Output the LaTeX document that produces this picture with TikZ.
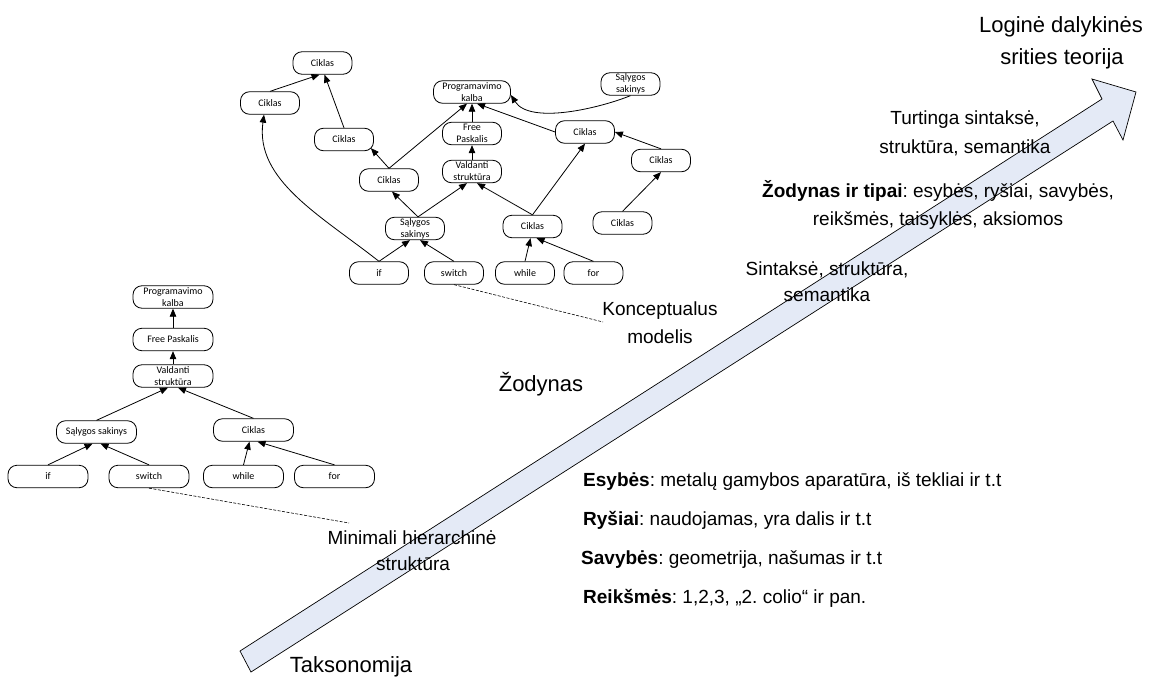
\documentclass[tikz,border=0pt]{standalone}
\usepackage{fontspec}
\setmainfont{Liberation Sans}
\newfontfamily\nodefont{Carlito}
\usetikzlibrary{arrows.meta}
\definecolor{arrowfill}{RGB}{228,234,246}
\frenchspacing

\begin{document}
\begin{tikzpicture}[x=1pt,y=-1pt,
  box/.style={draw, line width=0.8pt, rounded corners=9pt, inner sep=0pt, align=center,
              font=\nodefont\fontsize{10}{12}\selectfont, minimum height=22.5pt},
  ubox/.style={box, minimum width=59pt},
  lbox/.style={box, minimum width=80pt},
  link/.style={line width=0.8pt, -{Triangle[length=8pt,width=6.5pt]}},
  guide/.style={line width=0.6pt, dash pattern=on 3pt off 1.5pt},
  txt/.style={inner sep=0pt, anchor=base},
  big/.style={txt, font=\fontsize{22}{26}\selectfont},
  mid/.style={txt, font=\fontsize{19}{23}\selectfont},
  item/.style={inner sep=0pt, anchor=base west, font=\fontsize{19}{23}\selectfont},
]
\useasboundingbox (0,0) rectangle (1160,680);

% the rising arrow from taxonomy to domain theory
\draw[line width=0.7pt, fill=arrowfill, line join=miter]
  (240,651) -- (1102,99) -- (1092,79) -- (1136,92) -- (1123,140) -- (1113,121) -- (251,672) -- cycle;

% labels along the arrow
\node[big] (top1) at (1061,32) {Loginė dalykinės};
\node[big] (top2) at (1062,64) {srities teorija};
\node[mid] (rich1) at (965,124) {Turtinga sintaksė,};
\node[mid] (rich2) at (965,153) {struktūra, semantika};
\node[mid] (voc1) at (938,197) {\textbf{Žodynas ir tipai}: esybės, ryšiai, savybės,};
\node[mid] (voc2) at (938,225) {reikšmės, taisyklės, aksiomos};
\node[mid] (syn1) at (827,275) {Sintaksė, struktūra,};
\node[mid] (syn2) at (827,301) {semantika};
\node[mid] (con1) at (660,315) {Konceptualus};
\node[mid] (con2) at (660,343) {modelis};
\node[big] (dict) at (541,391) {Žodynas};
\node[mid] (min1) at (412,544) {Minimali hierarchinė};
\node[mid] (min2) at (413,570) {struktūra};
\node[big] (tax) at (351,672) {Taksonomija};
\node[item] (ent) at (583,486) {\textbf{Esybės}: metalų gamybos aparatūra, iš tekliai ir t.t};
\node[item] (rel) at (583,525) {\textbf{Ryšiai}: naudojamas, yra dalis ir t.t};
\node[item] (prop) at (581,564) {\textbf{Savybės}: geometrija, našumas ir t.t};
\node[item] (val) at (583,603) {\textbf{Reikšmės}: 1,2,3, „2. colio“ ir pan.};

% conceptual model
\node[ubox] (c1) at (322.5,63) {Ciklas};
\node[ubox] (c2) at (270,103) {Ciklas};
\node[ubox] (c3) at (344,139.5) {Ciklas};
\node[ubox] (c4) at (389,180) {Ciklas};
\node[ubox] (us) at (415,228.5) {Sąlygos\\sakinys};
\node[ubox] (uif) at (379,273) {if};
\node[ubox] (usw) at (454,273) {switch};
\node[ubox] (uwh) at (525,273) {while};
\node[ubox] (ufor) at (593.5,273) {for};
\node[box, minimum width=77pt] (uprog) at (472,92) {Programavimo\\kalba};
\node[ubox] (us2) at (630.5,84) {Sąlygos\\sakinys};
\node[ubox] (ufree) at (472,133.5) {Free\\Paskalis};
\node[ubox] (uval) at (472,171.5) {Valdanti\\struktūra};
\node[ubox] (c5) at (585,132) {Ciklas};
\node[ubox] (c6) at (661,160.5) {Ciklas};
\node[ubox] (c7) at (622.5,223) {Ciklas};
\node[ubox] (c8) at (532.5,226.5) {Ciklas};

\draw[link] (uif.north) -- ([xshift=-5pt]us.south);
\draw[link] (usw.north) -- ([xshift=5pt]us.south);
\draw[link] (uif.north) .. controls (320,215) and (255,180) .. ([xshift=-6pt]c2.south);
\draw[link] ([xshift=3pt]us.north) -- ([xshift=3pt]c4.south);
\draw[link] ([xshift=3pt]us.north) -- ([xshift=-5pt]uval.south);
\draw[link] (c4.north) -- ([xshift=-3pt,yshift=3pt]c3.south east);
\draw[link] (c4.north) -- ([xshift=-5pt]uprog.south);
\draw[link] (c3.north) -- ([xshift=2pt]c1.south);
\draw[link] (c2.north) -- ([xshift=-3pt]c1.south);
\draw[link] (ufree.north) -- (uprog.south);
\draw[link] (uval.north) -- (ufree.south);
\draw[link] (c8.north) -- ([xshift=5pt]uval.south);
\draw[link] (c8.north) -- (c5.south);
\draw[link] (uwh.north) -- ([xshift=-2pt]c8.south);
\draw[link] (ufor.north) -- ([xshift=4pt]c8.south);
\draw[link] (c5.west) -- ([xshift=5pt]uprog.south);
\draw[link] (c6.north) -- (c5.east);
\draw[link] (c7.north) -- (c6.south);
\draw[link] (us2.south) .. controls (600,108) and (530,125) .. ([yshift=-3pt]uprog.east);

\coordinate (conend) at (603,322);
\draw[guide] (usw.south) -- (conend);

% minimal hierarchy
\node[lbox] (lprog) at (173,297) {Programavimo\\kalba};
\node[lbox] (lfree) at (173,339.5) {Free Paskalis};
\node[lbox] (lval) at (173,376) {Valdanti\\struktūra};
\node[lbox] (ls) at (96.5,432) {Sąlygos sakinys};
\node[lbox] (lc) at (253.5,430) {Ciklas};
\node[lbox] (lif) at (48,476.5) {if};
\node[lbox] (lsw) at (149,476.5) {switch};
\node[lbox] (lwh) at (243.5,476.5) {while};
\node[lbox] (lfor) at (334.5,476.5) {for};

\draw[link] (lfree.north) -- (lprog.south);
\draw[link] (lval.north) -- (lfree.south);
\draw[link] (ls.north) -- ([xshift=-5pt]lval.south);
\draw[link] (lc.north) -- ([xshift=5pt]lval.south);
\draw[link] (lif.north) -- ([xshift=-4pt]ls.south);
\draw[link] (lsw.north) -- ([xshift=4pt]ls.south);
\draw[link] (lwh.north) -- ([xshift=-4pt]lc.south);
\draw[link] (lfor.north) -- ([xshift=4pt]lc.south);

\coordinate (minend) at (349,523);
\draw[guide] (lsw.south) -- (minend);
\end{tikzpicture}
\end{document}
